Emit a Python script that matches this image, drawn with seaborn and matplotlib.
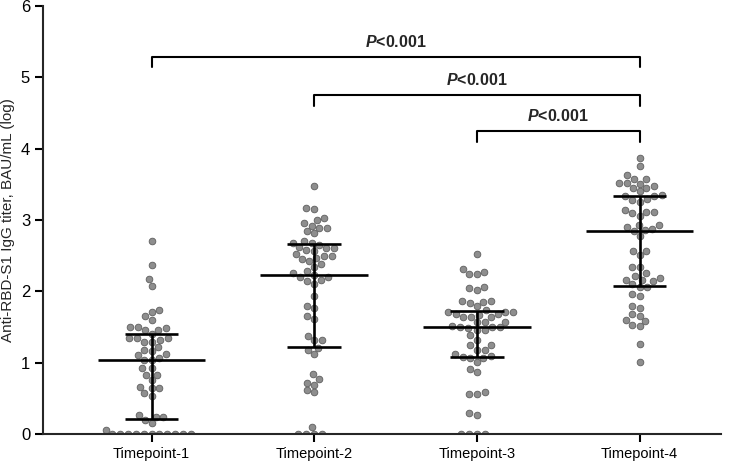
import numpy as np
import pandas as pd
import seaborn as sns
import matplotlib.pyplot as plt

groups = ["Timepoint-1", "Timepoint-2", "Timepoint-3", "Timepoint-4"]

t1 = [2.71, 2.37, 2.17, 2.07, 1.74, 1.71, 1.65, 1.59, 1.50, 1.50, 1.48, 1.45, 1.45,
      1.40, 1.35, 1.35, 1.35, 1.32, 1.29, 1.29, 1.22, 1.18, 1.16, 1.12, 1.11, 1.07,
      1.04, 1.04, 0.92, 0.92, 0.83, 0.83, 0.75, 0.66, 0.64, 0.64, 0.57, 0.53, 0.27,
      0.24, 0.24, 0.20, 0.15, 0.06] + [0.0] * 11
t2 = [3.48, 3.17, 3.16, 3.03, 3.00, 2.96, 2.92, 2.89, 2.89, 2.84, 2.81, 2.70, 2.68,
      2.67, 2.65, 2.62, 2.61, 2.60, 2.58, 2.57, 2.52, 2.50, 2.50, 2.46, 2.45, 2.42,
      2.38, 2.34, 2.28, 2.25, 2.23, 2.20, 2.20, 2.16, 2.14, 2.10, 1.93, 1.80, 1.76,
      1.65, 1.61, 1.37, 1.31, 1.31, 1.21, 1.18, 1.12, 0.84, 0.77, 0.72, 0.69, 0.61,
      0.58, 0.10] + [0.0] * 4
t3 = [2.52, 2.31, 2.27, 2.24, 2.24, 2.06, 2.04, 2.02, 1.86, 1.86, 1.85, 1.84, 1.79,
      1.73, 1.71, 1.71, 1.71, 1.68, 1.68, 1.67, 1.64, 1.64, 1.64, 1.57, 1.57, 1.57,
      1.50, 1.50, 1.50, 1.51, 1.48, 1.45, 1.45, 1.38, 1.32, 1.24, 1.24, 1.18, 1.18,
      1.12, 1.09, 1.08, 1.07, 1.07, 1.01, 0.91, 0.87, 0.58, 0.56, 0.56, 0.29, 0.27] + [0.0] * 4
t4 = [3.87, 3.75, 3.63, 3.58, 3.57, 3.52, 3.52, 3.51, 3.48, 3.45, 3.45, 3.40, 3.35,
      3.34, 3.33, 3.29, 3.28, 3.25, 3.14, 3.11, 3.11, 3.10, 3.06, 2.93, 2.93, 2.90,
      2.88, 2.86, 2.85, 2.78, 2.56, 2.56, 2.51, 2.34, 2.34, 2.25, 2.22, 2.18, 2.16,
      2.16, 2.14, 2.10, 2.06, 2.06, 1.96, 1.93, 1.80, 1.77, 1.68, 1.65, 1.60, 1.58,
      1.53, 1.51, 1.26, 1.01]

# median and interquartile range
medians = [1.04, 2.23, 1.50, 2.85]
q1 = [0.21, 1.22, 1.08, 2.07]
q3 = [1.40, 2.66, 1.72, 3.34]

# significance brackets: (left group, right group, bracket height, label)
comparisons = [(0, 3, 5.29, "P<0.001"), (1, 3, 4.75, "P<0.001"), (2, 3, 4.25, "P<0.001")]

df = pd.DataFrame({
    "group": np.repeat(groups, [len(t1), len(t2), len(t3), len(t4)]),
    "titer": t1 + t2 + t3 + t4,
})

sns.set_style("ticks")
plt.rcParams["font.family"] = ["Liberation Sans", "DejaVu Sans"]
plt.rcParams["mathtext.fontset"] = "custom"
plt.rcParams["mathtext.bfit"] = "Liberation Sans:italic:bold"
plt.rcParams["mathtext.rm"] = "Liberation Sans"

fig, ax = plt.subplots(figsize=(7.47, 4.65), dpi=100)
fig.subplots_adjust(left=0.058, right=0.965, bottom=0.067, top=0.987)

sns.swarmplot(data=df, x="group", y="titer", order=groups, ax=ax, size=4.8,
              color="#8e8e8e", edgecolor="#5e5e5e", linewidth=0.6, zorder=2,
              warn_thresh=1)

xs = np.arange(len(groups))
ax.hlines(medians, xs - 0.33, xs + 0.33, color="black", lw=1.9, zorder=3)
ax.hlines(q1, xs - 0.165, xs + 0.165, color="black", lw=1.9, zorder=3)
ax.hlines(q3, xs - 0.165, xs + 0.165, color="black", lw=1.9, zorder=3)
ax.vlines(xs, q1, q3, color="black", lw=1.9, zorder=3)

for a, b, h, label in comparisons:
    ax.plot([a, a, b, b], [h - 0.15, h, h, h - 0.15], color="black", lw=1.5,
            clip_on=False)
    ax.text((a + b) / 2, h + 0.1, r"$\bfit{P}$" + label[1:], ha="center",
            va="bottom", fontsize=11.5, fontweight="bold")

ax.set_ylim(0, 6)
ax.set_xlim(-0.665, 3.5)
ax.set_yticks(range(7))
ax.set_xlabel("")
ax.set_ylabel("Anti-RBD-S1 IgG titer, BAU/mL (log)", fontsize=11)
ax.tick_params(axis="x", labelsize=10.5, width=1.5, length=6, colors="black")
ax.tick_params(axis="y", labelsize=12, width=1.5, length=6, colors="black")
for side in ["left", "bottom"]:
    ax.spines[side].set_linewidth(1.5)
sns.despine(ax=ax)

fig.savefig("out.png", dpi=100)
